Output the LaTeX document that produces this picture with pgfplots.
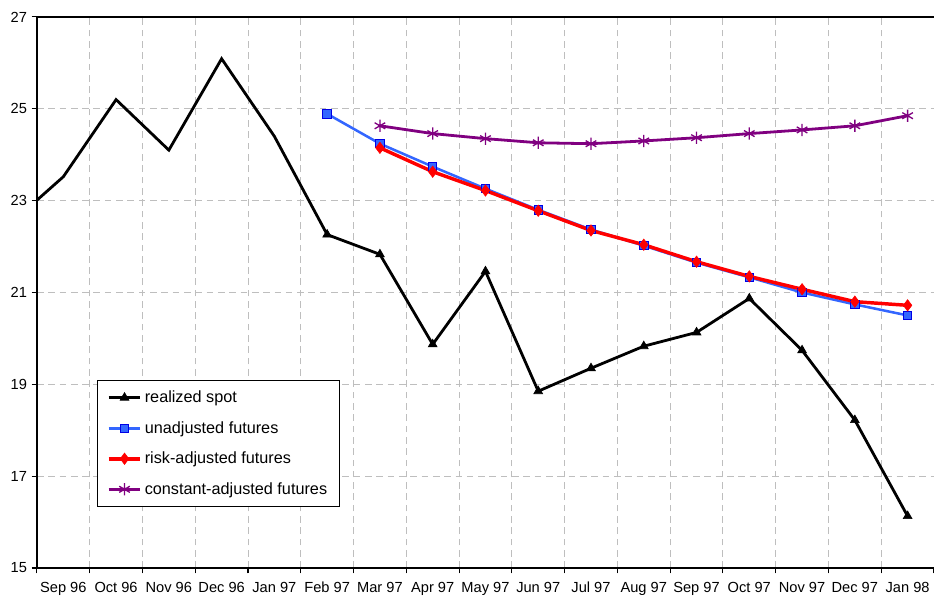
\documentclass[border=0pt]{standalone}
\usepackage{pgfplots}
\pgfplotsset{compat=1.18}
\usepackage{fontspec}
\setmainfont{Liberation Sans}
\definecolor{gridgray}{RGB}{190,190,190}
\definecolor{ublue}{RGB}{51,102,255}
\definecolor{ublueedge}{RGB}{0,0,230}
\definecolor{cpurple}{RGB}{128,0,128}
\begin{document}
\begin{tikzpicture}
\begin{axis}[
  scale only axis,
  width=674pt, height=414pt,
  xmin=-0.5, xmax=16.5,
  ymin=15, ymax=27,
  axis x line*=bottom, axis y line*=left,
  axis line style={line width=1.1pt, -},
  xtick={0,...,16},
  xticklabels={Sep 96,Oct 96,Nov 96,Dec 96,Jan 97,Feb 97,Mar 97,Apr 97,May 97,Jun 97,Jul 97,Aug 97,Sep 97,Oct 97,Nov 97,Dec 97,Jan 98},
  major x tick style={draw=none},
  minor xtick={-0.5,0.5,...,16.5},
  minor x tick style={draw=black, line width=0.8pt},
  xminorgrids=true, xmajorgrids=false,
  minor grid style={gridgray, dash pattern=on 5pt off 3.5pt, line width=0.7pt},
  ytick={15,17,...,27},
  ymajorgrids=true,
  major grid style={gridgray, dash pattern=on 5pt off 3.5pt, line width=0.7pt},
  ytick style={draw=black, line width=0.8pt},
  tick align=outside,
  major tick length=4pt, minor tick length=4pt,
  tick label style={font=\fontsize{11}{13}\selectfont},
  /pgf/number format/assume math mode=true,
  xticklabel style={yshift=-3pt},
  clip=true,
  legend cell align=left,
  legend style={at={(0.067,0.11)}, anchor=south west, draw=black, line width=0.8pt,
    font=\fontsize{12.2}{14}\selectfont, row sep=8.6pt, inner xsep=7pt, inner ysep=6pt},
  legend image code/.code={\draw[mark repeat=2,mark phase=2] plot coordinates {(0cm,0cm) (0.42cm,0cm) (0.84cm,0cm)};},
]
% realized spot: early part without markers
\addplot[black, line width=2.1pt, no markers, forget plot] coordinates {
 (-1,22.5) (0,23.52) (1,25.2) (2,24.1) (3,26.09) (4,24.4) (5,22.26)};
\addplot[black, line width=2.1pt, mark=triangle*, mark size=3.8pt, mark options={solid, fill=black, line width=0.5pt}] coordinates {
 (5,22.26) (6,21.83) (7,19.87) (8,21.46) (9,18.85) (10,19.35) (11,19.83) (12,20.13) (13,20.87) (14,19.74) (15,18.22) (16,16.13)};
\addlegendentry{realized spot}
\addplot[ublue, line width=1.9pt, mark=square*, mark size=3.2pt, mark options={solid, fill=ublue, draw=ublueedge, line width=0.7pt}] coordinates {
 (5,24.89) (6,24.24) (7,23.74) (8,23.26) (9,22.8) (10,22.37) (11,22.02) (12,21.65) (13,21.33) (14,21.0) (15,20.74) (16,20.5)};
\addlegendentry{unadjusted futures}
\addplot[red, line width=2.6pt, mark=diamond*, mark size=4.3pt, mark options={solid, fill=red, draw=red, line width=0.4pt}] coordinates {
 (6,24.15) (7,23.63) (8,23.22) (9,22.78) (10,22.35) (11,22.04) (12,21.67) (13,21.35) (14,21.07) (15,20.8) (16,20.72)};
\addlegendentry{risk-adjusted futures}
\addplot[cpurple, line width=2.1pt, mark=asterisk, mark size=4.6pt, mark options={solid, line width=1pt}] coordinates {
 (6,24.63) (7,24.46) (8,24.35) (9,24.26) (10,24.24) (11,24.3) (12,24.37) (13,24.46) (14,24.54) (15,24.63) (16,24.85)};
\addlegendentry{constant-adjusted futures}
\draw[black, line width=1.1pt] (rel axis cs:0,1) -- (rel axis cs:1,1);
\end{axis}
\pgfresetboundingbox
\path (current axis.south west) ++(-27.75pt,-22.5pt) coordinate (bbl);
\path (current axis.north east) ++(-1.5pt,12.75pt) coordinate (btr);
\path (bbl) rectangle (btr);
\end{tikzpicture}
\end{document}
